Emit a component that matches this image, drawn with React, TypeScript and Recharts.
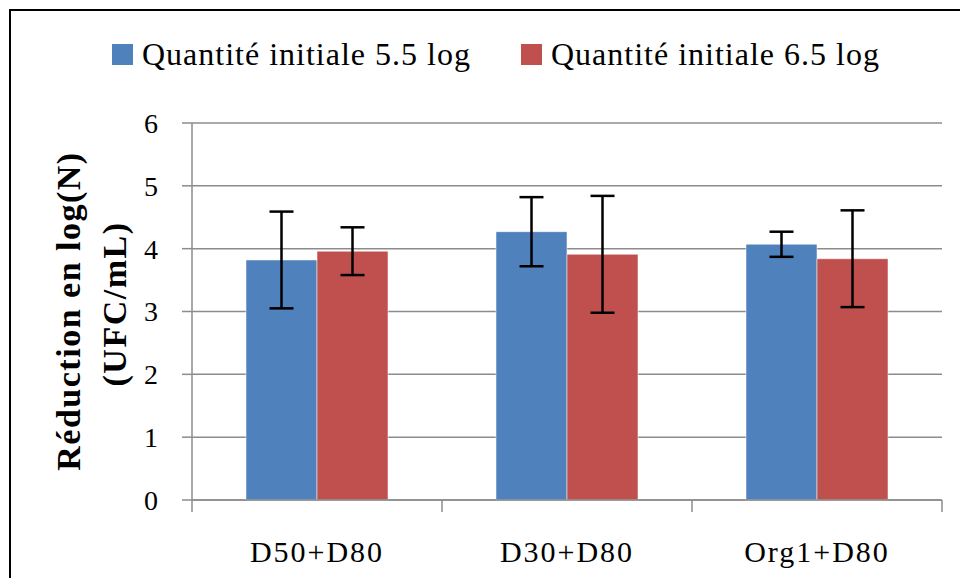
import { Bar, BarChart, CartesianGrid, ErrorBar, Label, XAxis, YAxis } from "recharts";

const categories = ["D50+D80", "D30+D80", "Org1+D80"];
const seriesNames = ["Quantité initiale 5.5 log", "Quantité initiale 6.5 log"];
const initial55 = [3.82, 4.27, 4.07];
const initial55Err = [0.77, 0.55, 0.2];
const initial65 = [3.96, 3.91, 3.84];
const initial65Err = [0.38, 0.93, 0.77];
const yTicks = [0, 1, 2, 3, 4, 5, 6];
const colors = ["#4F81BD", "#C0504D"];

const data = categories.map((name, i) => ({
  name,
  a: initial55[i],
  aErr: initial55Err[i],
  b: initial65[i],
  bErr: initial65Err[i],
}));

const font = '"Liberation Serif", "DejaVu Serif", serif';
const grey = "#8c8c8c";

const CategoryTick = (props: any) => {
  const { x, y, payload, index } = props;
  const half = payload && payload.offset ? payload.offset : 125;
  const last = index === categories.length - 1;
  return (
    <g>
      <line x1={x - half} y1={y} x2={x - half} y2={y + 12} stroke={grey} strokeWidth={1.5} />
      {last && <line x1={x + half} y1={y} x2={x + half} y2={y + 12} stroke={grey} strokeWidth={1.5} />}
      <text x={x} y={y + 62} textAnchor="middle" fontSize={30} letterSpacing={2} fontFamily={font} fill="#000">
        {payload.value}
      </text>
    </g>
  );
};

const YTitle = () => (
  <g fontFamily={font} fontSize={34} letterSpacing={1.5} fontWeight="bold" fill="#000" textAnchor="middle">
    <text x={80} y={311} transform="rotate(-90, 80, 311)">Réduction en log(N)</text>
    <text x={126} y={304} transform="rotate(-90, 126, 304)">(UFC/mL)</text>
  </g>
);

export default function App() {
  return (
    <div style={{ position: "absolute", left: 0, top: 0, width: 960, height: 578, background: "#fff", overflow: "hidden" }}>
      <div
        style={{
          position: "absolute",
          left: 9,
          top: 9,
          width: 960,
          height: 578,
          borderLeft: "2px solid #000",
          borderTop: "2px solid #000",
        }}
      />
      <div
        style={{
          position: "absolute",
          top: 36,
          left: 112,
          display: "flex",
          alignItems: "center",
          fontFamily: font,
          fontSize: 32,
          letterSpacing: 1,
          whiteSpace: "nowrap",
        }}
      >
        {seriesNames.map((s, i) => (
          <div key={s} style={{ display: "flex", alignItems: "center", marginRight: 50 }}>
            <span style={{ display: "inline-block", width: 21, height: 21, background: colors[i], marginRight: 9 }} />
            <span>{s}</span>
          </div>
        ))}
      </div>
      <BarChart
        width={960}
        height={578}
        data={data}
        margin={{ top: 123, right: 18, bottom: 0, left: 0 }}
        barCategoryGap="21.6%"
        barGap={0}
        style={{ position: "absolute", left: 0, top: 0 }}
      >
        <CartesianGrid vertical={false} stroke={grey} strokeWidth={1.5} />
        <XAxis
          dataKey="name"
          height={78}
          axisLine={{ stroke: grey, strokeWidth: 1.5 }}
          tickLine={false}
          tickSize={0}
          tickMargin={0}
          tick={<CategoryTick />}
          interval={0}
        />
        <YAxis
          width={192}
          domain={[0, 6]}
          ticks={yTicks}
          interval={0}
          axisLine={{ stroke: grey, strokeWidth: 1.5 }}
          tickLine={{ stroke: grey, strokeWidth: 1.5 }}
          tickSize={10}
          tickMargin={24}
          tick={{ fontSize: 28, fontFamily: font, fill: "#000" }}
        >
          <Label content={<YTitle />} />
        </YAxis>
        <Bar dataKey="a" name={seriesNames[0]} fill={colors[0]} stroke="#ffffff" strokeOpacity={0.5} isAnimationActive={false}>
          <ErrorBar dataKey="aErr" width={12} stroke="#000" strokeWidth={2.5} />
        </Bar>
        <Bar dataKey="b" name={seriesNames[1]} fill={colors[1]} stroke="#ffffff" strokeOpacity={0.5} isAnimationActive={false}>
          <ErrorBar dataKey="bErr" width={12} stroke="#000" strokeWidth={2.5} />
        </Bar>
      </BarChart>
    </div>
  );
}
